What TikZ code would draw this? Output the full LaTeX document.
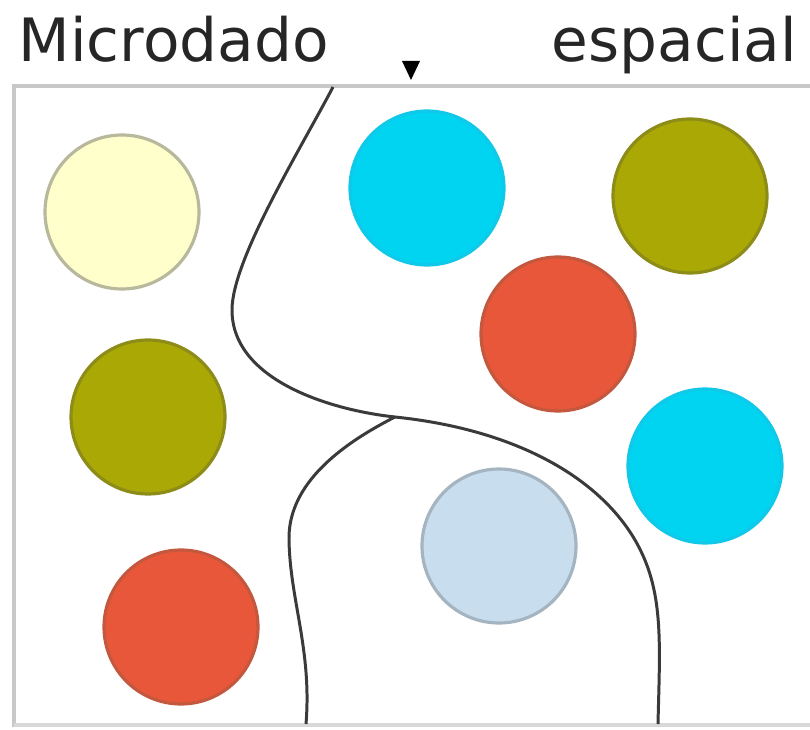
\documentclass[tikz,border=0pt]{standalone}
\usepackage{fontspec}
\setmainfont{DejaVu Sans}
\usepackage{tikz}
\definecolor{paleyel}{HTML}{FFFFCC}
\definecolor{paleedge}{HTML}{B8B89C}
\definecolor{skycyan}{HTML}{00D4F0}
\definecolor{cyanedge}{HTML}{10C8E8}
\definecolor{olivegrn}{HTML}{A9A804}
\definecolor{oliveedge}{HTML}{8E8C18}
\definecolor{tomato}{HTML}{E9573A}
\definecolor{tomatoedge}{HTML}{C4583E}
\definecolor{iceblue}{HTML}{C8DDEE}
\definecolor{iceedge}{HTML}{A4B4C0}
\definecolor{framegray}{HTML}{C8C8C8}
\definecolor{curvegray}{HTML}{3A3A3A}

\begin{document}
\begin{tikzpicture}[x=0.1mm, y=-0.1mm, every node/.style={font=\fontsize{17}{20}\selectfont},
  dot/.style={circle, minimum size=15.4mm, inner sep=0pt, line width=0.9pt}]
\useasboundingbox (0,0) rectangle (810,730);
\fill[white] (0,0) rectangle (810,730);
% frame of the image
\draw[framegray, line width=1.1pt] (14,727) -- (14,86) -- (812,86);
\draw[framegray!70, line width=1.1pt] (14,725) -- (812,725);

% the spatial units
\node[dot, fill=paleyel, draw=paleedge] (yel) at (122,212) {};
\node[dot, fill=skycyan, draw=cyanedge] (cyanA) at (427,188) {};
\node[dot, fill=olivegrn, draw=oliveedge] (oliveA) at (690,196) {};
\node[dot, fill=tomato, draw=tomatoedge] (redA) at (558,334) {};
\node[dot, fill=olivegrn, draw=oliveedge] (oliveB) at (148,417) {};
\node[dot, fill=skycyan, draw=cyanedge] (cyanB) at (705,466) {};
\node[dot, fill=iceblue, draw=iceedge] (ice) at (499,546) {};
\node[dot, fill=tomato, draw=tomatoedge] (redB) at (181,627) {};

% borders between the zones
\coordinate (fork) at (395,417);
\draw[curvegray, line width=0.85pt] (333,87) .. controls (300,150) and (232,260) .. (232,310)
  .. controls (232,380) and (330,410) .. (fork)
  .. controls (520,430) and (600,480) .. (635,540)
  .. controls (664,590) and (660,640) .. (658,724);
\draw[curvegray, line width=0.85pt] (fork) .. controls (330,450) and (288,490) .. (289,540)
  .. controls (290,600) and (312,650) .. (306,724);

% titles and pointer
\node[anchor=base west, inner sep=0pt, text=black!85] (micro) at (18,62) {Microdado};
\node[anchor=base west, inner sep=0pt, text=black!85] (espac) at (551,62) {espacial};
\fill[black] (402,61) -- (420,61) -- (411,80) -- cycle;
\end{tikzpicture}
\end{document}
